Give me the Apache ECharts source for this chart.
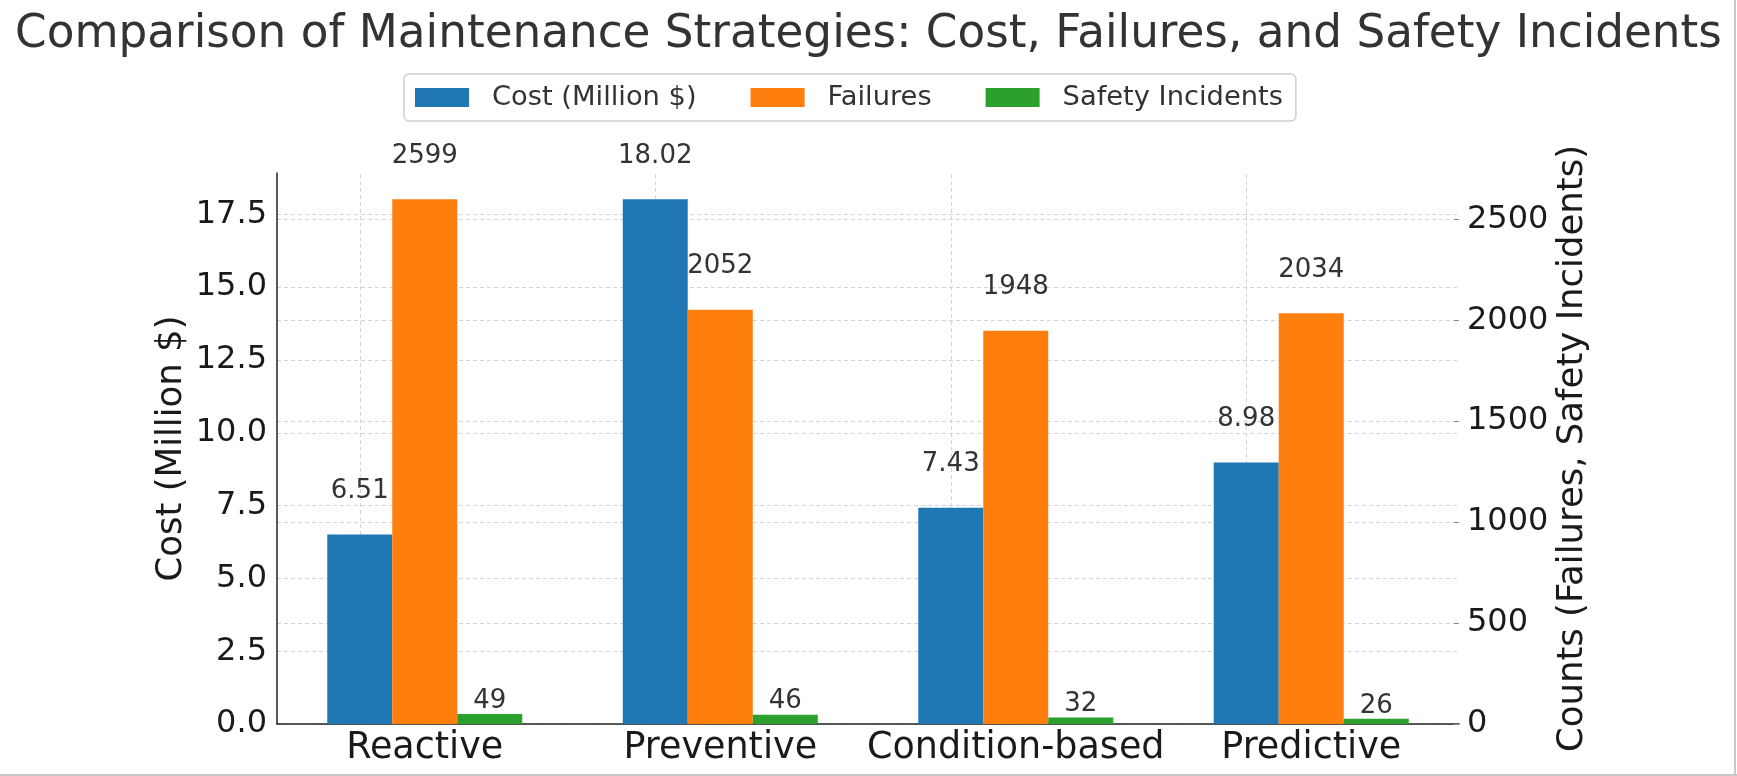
<!DOCTYPE html>
<html>
<head>
<meta charset="utf-8">
<script src="https://cdn.jsdelivr.net/npm/echarts@6/dist/echarts.min.js"></script>
<style>
html,body{margin:0;padding:0;background:#fff;}
#chart{width:1737px;height:776px;}
</style>
</head>
<body>
<div id="chart"></div>
<script>
const categories = ['Reactive', 'Preventive', 'Condition-based', 'Predictive'];
const costValues = [6.51, 18.02, 7.43, 8.98];
const failureValues = [2599, 2052, 1948, 2034];
const safetyValues = [49, 46, 32, 26];
const seriesNames = ['Cost (Million $)', 'Failures', 'Safety Incidents'];
const titleText = 'Comparison of Maintenance Strategies: Cost, Failures, and Safety Incidents';
const leftAxisName = 'Cost (Million $)';
const rightAxisName = 'Counts (Failures, Safety Incidents)';

const FONT = 'DejaVu Sans';
const chart = echarts.init(document.getElementById('chart'), null, {renderer: 'canvas'});

const gridDash = {type: [4, 3], color: '#d4d4d4', width: 1};

const option = {
  animation: false,
  backgroundColor: '#ffffff',
  textStyle: {fontFamily: FONT},
  title: {
    text: titleText,
    left: 'center',
    top: 8,
    textStyle: {fontFamily: FONT, fontSize: 45.3, fontWeight: 'normal', color: '#333333'}
  },
  legend: {
    left: 404,
    top: 74,
    orient: 'horizontal',
    icon: 'rect',
    itemWidth: 54,
    itemHeight: 19,
    itemGap: 54,
    padding: [10, 13, 10, 11],
    borderColor: '#d0d0d0',
    borderWidth: 1.5,
    borderRadius: 5,
    backgroundColor: '#ffffff',
    textStyle: {fontFamily: FONT, fontSize: 27.3, color: '#333333', padding: [0, 0, 0, 18]},
    data: seriesNames
  },
  grid: {
    left: 277,
    right: 278,
    top: 173,
    bottom: 52,
    containLabel: false,
    outerBoundsMode: 'none'
  },
  xAxis: {
    type: 'category',
    data: categories,
    boundaryGap: true,
    axisLine: {show: true, lineStyle: {color: '#222222', width: 1.5}},
    axisTick: {show: false},
    axisLabel: {fontFamily: FONT, fontSize: 36.5, color: '#1a1a1a', margin: 6, interval: 0},
    splitLine: {show: false}
  },
  yAxis: [
    {
      type: 'value',
      min: 0,
      max: 18.921,
      interval: 2.5,
      position: 'left',
      name: leftAxisName,
      nameLocation: 'middle',
      nameGap: 87,
      nameMoveOverlap: false,
      nameTextStyle: {fontFamily: FONT, fontSize: 35.5, color: '#1a1a1a'},
      axisLine: {show: true, lineStyle: {color: '#222222', width: 1.5}},
      axisTick: {show: false},
      axisLabel: {
        fontFamily: FONT, fontSize: 32, color: '#1a1a1a', margin: 10,
        showMaxLabel: false,
        formatter: v => (Math.abs(v / 2.5 - Math.round(v / 2.5)) < 1e-6 ? v.toFixed(1) : '')
      },
      splitLine: {show: true, showMaxLine: false, lineStyle: gridDash}
    },
    {
      type: 'value',
      min: 0,
      max: 2729,
      interval: 500,
      position: 'right',
      name: rightAxisName,
      nameLocation: 'middle',
      nameGap: 96,
      nameMoveOverlap: false,
      nameTextStyle: {fontFamily: FONT, fontSize: 35.5, color: '#1a1a1a'},
      axisLine: {show: false},
      axisTick: {show: true, inside: true, length: 5, lineStyle: {color: '#888888', width: 1}},
      axisLabel: {
        fontFamily: FONT, fontSize: 32, color: '#1a1a1a', margin: 8,
        showMaxLabel: false,
        formatter: v => (v % 500 === 0 ? String(v) : '')
      },
      splitLine: {show: true, showMaxLine: false, lineStyle: gridDash}
    }
  ],
  series: [
    {
      name: seriesNames[0],
      type: 'bar',
      yAxisIndex: 0,
      data: costValues,
      barWidth: 65,
      barGap: '0%',
      itemStyle: {color: '#1f77b4'},
      label: {
        show: true, position: 'top', distance: 30,
        fontFamily: FONT, fontSize: 26, color: '#333333',
        formatter: p => p.value.toFixed(2)
      },
      markLine: {
        silent: true,
        z: 1,
        symbol: ['none', 'none'],
        label: {show: false},
        lineStyle: gridDash,
        emphasis: {disabled: true},
        data: categories.map(c => ({xAxis: c}))
      }
    },
    {
      name: seriesNames[1],
      type: 'bar',
      yAxisIndex: 1,
      data: failureValues,
      barWidth: 65,
      barGap: '0%',
      itemStyle: {color: '#ff7f0e'},
      label: {
        show: true, position: 'top', distance: 30,
        fontFamily: FONT, fontSize: 26, color: '#333333'
      }
    },
    {
      name: seriesNames[2],
      type: 'bar',
      yAxisIndex: 1,
      data: safetyValues,
      barWidth: 65,
      barGap: '0%',
      itemStyle: {color: '#2ca02c'},
      label: {
        show: true, position: 'top', distance: 0,
        fontFamily: FONT, fontSize: 26, color: '#333333'
      }
    }
  ],
  graphic: [
    {type: 'line', shape: {x1: 1735, y1: 0, x2: 1735, y2: 776}, style: {stroke: '#c8c8c8', lineWidth: 2}, silent: true},
    {type: 'line', shape: {x1: 0, y1: 775, x2: 1737, y2: 775}, style: {stroke: '#c8c8c8', lineWidth: 2}, silent: true}
  ]
};
chart.setOption(option);
</script>
</body>
</html>
